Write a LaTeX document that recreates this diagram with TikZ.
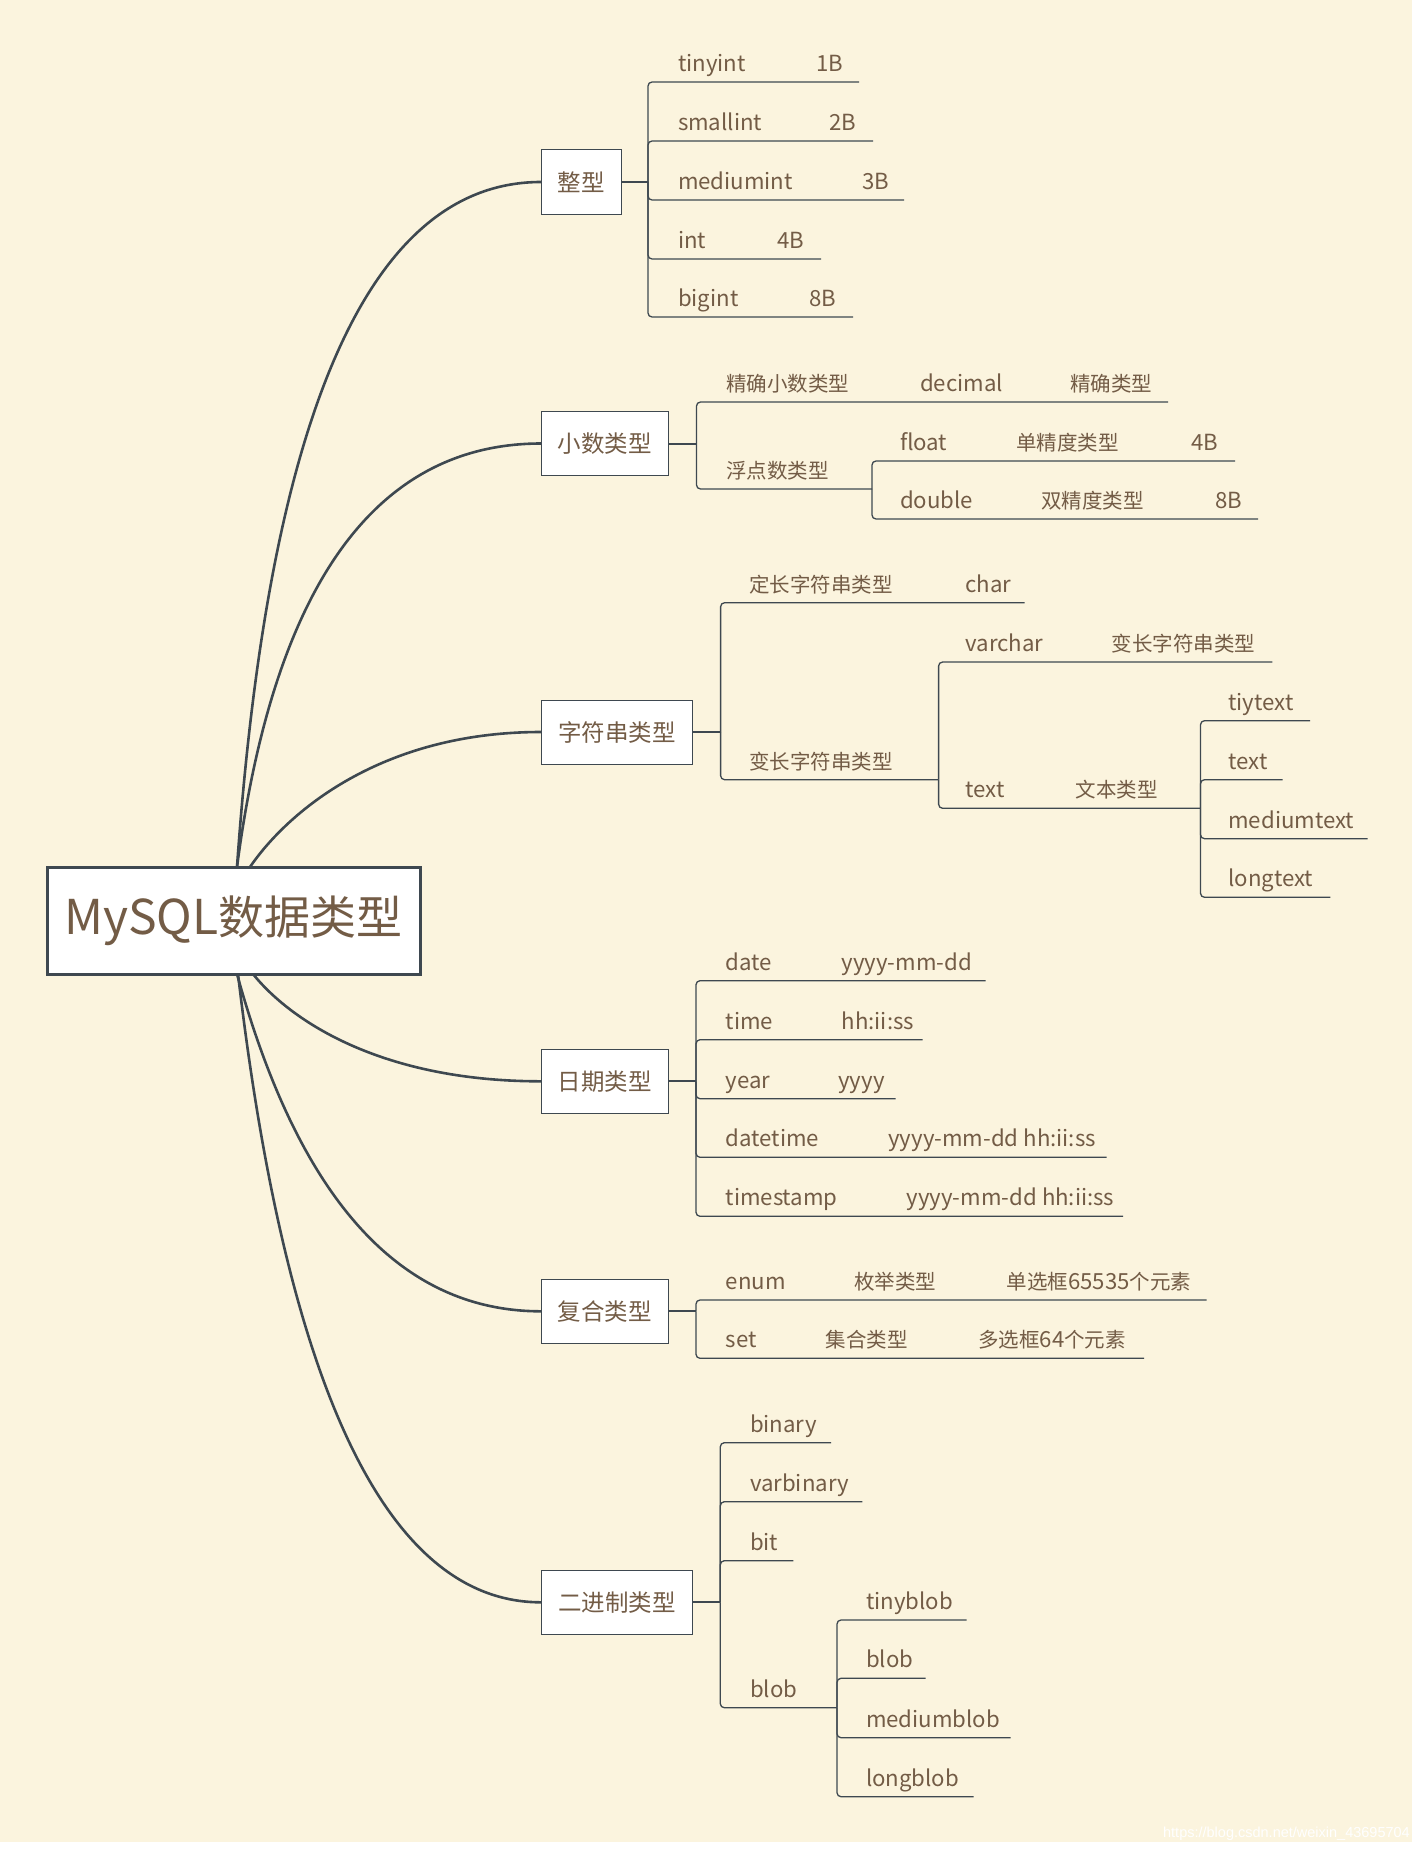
\documentclass[tikz,border=0pt]{standalone}
\usepackage{fontspec}
\setmainfont{Noto Sans CJK SC}
\newfontfamily\wmfont{Liberation Sans}
\definecolor{bgc}{HTML}{FBF4DE}
\definecolor{txt}{HTML}{735C46}
\definecolor{lnc}{HTML}{3E4850}
\newcommand\mmlat{\fontsize{22.2}{26}\selectfont}
\newcommand\mmleaf[7][leafl]{% style, name, start coord, line y, x end, x text, text
  \draw[br] (#3) |- (#5,#4) coordinate (#2-e);
  \node[#1] (#2) at (#6,#4-10.5) {#7};
}
\newcommand\mmcol[5][leafl]{% style, name, x, line y, text
  \node[#1] (#2) at (#3,#4-10.5) {#5};
}
\begin{document}
\begin{tikzpicture}[x=1pt,y=-1pt,
  br/.style={draw=lnc,line width=1.3pt,rounded corners=4pt},
  conn/.style={draw=lnc,line width=2pt},
  curve/.style={draw=lnc,line width=2.6pt},
  leaf/.style={anchor=base west,inner sep=0pt,outer sep=0pt,text=txt,font=\fontsize{20.5}{24}\selectfont},
  leafl/.style={leaf,font=\mmlat},
  topic/.style={draw=lnc,line width=1pt,fill=white,minimum height=64pt,inner sep=0pt,text=txt,font=\fontsize{23.5}{28}\selectfont},
  rootbox/.style={draw=lnc,line width=3pt,fill=white,minimum width=373pt,minimum height=107pt,inner sep=0pt,text=txt,font=\fontsize{46}{52}\selectfont}
]
\fill[white] (0,0) rectangle (1420,1854);
\fill[bgc] (0,0) rectangle (1412,1842);
\useasboundingbox (0,0) rectangle (1420,1854);

% topics
\node[topic,minimum width=79.5pt] (zx) at (581.25,182) {整型};
\node[topic,minimum width=126.8pt] (xs) at (604.9,443.5) {小数类型};
\node[topic,minimum width=150.8pt] (zf) at (616.9,732) {字符串类型};
\node[topic,minimum width=126.8pt] (rq) at (604.9,1081.3) {日期类型};
\node[topic,minimum width=126.8pt] (fh) at (604.9,1311.3) {复合类型};
\node[topic,minimum width=150.8pt] (ejz) at (616.9,1602.3) {二进制类型};

% curves from root
\coordinate (s1) at (237,867);
\coordinate (s2) at (237,867);
\coordinate (s3) at (250,867);
\coordinate (s4) at (253,974);
\coordinate (s5) at (237,974);
\coordinate (s6) at (238,974);
\draw[curve] (s1) .. controls (269,411) and (370,182) .. (zx.west);
\draw[curve] (s2) .. controls (274,584.5) and (376,443.5) .. (xs.west);
\draw[curve] (s3) .. controls (287,813) and (380,732) .. (zf.west);
\draw[curve] (s4) .. controls (290,1020) and (380,1081.3) .. (rq.west);
\draw[curve] (s5) .. controls (299,1199) and (400,1311.3) .. (fh.west);
\draw[curve] (s6) .. controls (287,1392) and (388,1602.3) .. (ejz.west);

\node[rootbox] (root) at (233.5,920.5) {{\fontsize{48}{52}\selectfont MySQL}数据类型};

% ---------- 整型
\coordinate (zxb) at (648,182);
\draw[conn] (zx.east) -- (zxb);
\mmleaf{ti}{zxb}{82}{859}{678}{tinyint}\mmcol{ti2}{816}{82}{1B}
\mmleaf{sm}{zxb}{141}{873}{678}{smallint}\mmcol{sm2}{829}{141}{2B}
\mmleaf{me}{zxb}{200}{904}{678}{mediumint}\mmcol{me2}{862}{200}{3B}
\mmleaf{in}{zxb}{259}{821}{678}{int}\mmcol{in2}{777}{259}{4B}
\mmleaf{bi}{zxb}{317}{853}{678}{bigint}\mmcol{bi2}{809}{317}{8B}

% ---------- 小数类型
\coordinate (xsb) at (696.5,443.5);
\draw[conn] (xs.east) -- (xsb);
\mmleaf[leaf]{jq}{xsb}{402}{1168}{726}{精确小数类型}\mmcol{jq2}{920}{402}{decimal}\mmcol[leaf]{jq3}{1070}{402}{精确类型}
\coordinate (fdb) at (872,489);
\mmleaf[leaf]{fd}{xsb}{489}{872}{726}{浮点数类型}
\mmleaf{fl}{fdb}{461}{1235}{900}{float}\mmcol[leaf]{fl2}{1016}{461}{单精度类型}\mmcol{fl3}{1191}{461}{4B}
\mmleaf{db}{fdb}{519}{1258}{900}{double}\mmcol[leaf]{db2}{1041}{519}{双精度类型}\mmcol{db3}{1215}{519}{8B}

% ---------- 字符串类型
\coordinate (zfb) at (720.6,732);
\draw[conn] (zf.east) -- (zfb);
\mmleaf[leaf]{dc}{zfb}{602.7}{1024.5}{749.4}{定长字符串类型}\mmcol{dc2}{965.5}{602.7}{char}
\coordinate (bcb) at (938.6,779.7);
\mmleaf[leaf]{bc}{zfb}{779.7}{938.6}{749.4}{变长字符串类型}
\mmleaf{vc}{bcb}{662}{1272.3}{965.5}{varchar}\mmcol[leaf]{vc2}{1111.8}{662}{变长字符串类型}
\coordinate (txb) at (1200.5,808.3);
\mmleaf{tx}{bcb}{808.3}{1200.5}{965.5}{text}\mmcol[leaf]{tx2}{1075.5}{808.3}{文本类型}
\mmleaf{t1}{txb}{720.7}{1310}{1228.4}{tiytext}
\mmleaf{t2}{txb}{779.7}{1282.6}{1228.4}{text}
\mmleaf{t3}{txb}{838.7}{1367.6}{1228.4}{mediumtext}
\mmleaf{t4}{txb}{897.3}{1330.3}{1228.4}{longtext}

% ---------- 日期类型
\coordinate (rqb) at (696,1081.3);
\draw[conn] (rq.east) -- (rqb);
\mmleaf{d1}{rqb}{980.7}{985.7}{725.7}{date}\mmcol{d1b}{841.7}{980.7}{yyyy-mm-dd}
\mmleaf{d2}{rqb}{1039.7}{922.7}{725.7}{time}\mmcol{d2b}{841.7}{1039.7}{hh:ii:ss}
\mmleaf{d3}{rqb}{1098.7}{895.7}{725.7}{year}\mmcol{d3b}{838.3}{1098.7}{yyyy}
\mmleaf{d4}{rqb}{1157.3}{1106.6}{725.7}{datetime}\mmcol{d4b}{888.3}{1157.3}{yyyy-mm-dd hh:ii:ss}
\mmleaf{d5}{rqb}{1216.3}{1123}{725.7}{timestamp}\mmcol{d5b}{906.7}{1216.3}{yyyy-mm-dd hh:ii:ss}

% ---------- 复合类型
\coordinate (fhb) at (696,1311.3);
\draw[conn] (fh.east) -- (fhb);
\mmleaf{en}{fhb}{1300}{1206.7}{725.7}{enum}\mmcol[leaf]{en2}{854}{1300}{枚举类型}\mmcol[leaf]{en3}{1006.7}{1300}{单选框{\mmlat 65535}个元素}
\mmleaf{se}{fhb}{1358.3}{1144}{725.7}{set}\mmcol[leaf]{se2}{825.7}{1358.3}{集合类型}\mmcol[leaf]{se3}{978.3}{1358.3}{多选框{\mmlat 64}个元素}

% ---------- 二进制类型
\coordinate (ejb) at (720.3,1602.3);
\draw[conn] (ejz.east) -- (ejb);
\mmleaf{b1}{ejb}{1442.7}{831}{750}{binary}
\mmleaf{b2}{ejb}{1501.7}{862.3}{750}{varbinary}
\mmleaf{b3}{ejb}{1560.7}{793.3}{750}{bit}
\coordinate (blb) at (837,1707.7);
\mmleaf{b4}{ejb}{1707.7}{837}{750}{blob}
\mmleaf{c1}{blb}{1620}{966.7}{866}{tinyblob}
\mmleaf{c2}{blb}{1678.3}{925.7}{866}{blob}
\mmleaf{c3}{blb}{1737.7}{1010.7}{866}{mediumblob}
\mmleaf{c4}{blb}{1796.7}{973.7}{866}{longblob}

% watermark
\node[anchor=base east,inner sep=0pt,text=white,font=\fontsize{14.5}{16}\selectfont\wmfont] (wm) at (1410,1837) {https://blog.csdn.net/weixin\_43695704};
\end{tikzpicture}
\end{document}
